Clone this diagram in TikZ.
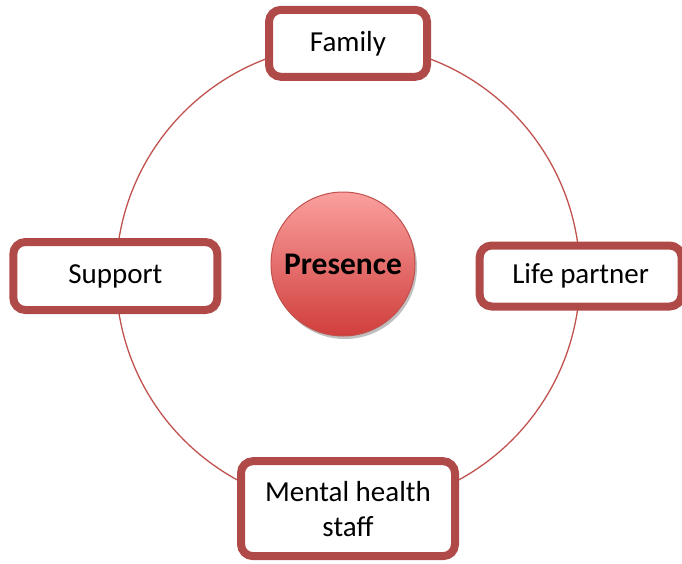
\documentclass[tikz,border=0pt]{standalone}
\usepackage{fontspec}
\setmainfont{Carlito}
\usetikzlibrary{shapes,shadows,positioning}

\definecolor{boxred}{RGB}{176,74,72}
\definecolor{ringred}{RGB}{192,82,78}
\definecolor{hubtop}{RGB}{250,160,158}
\definecolor{hubbot}{RGB}{208,62,60}

\tikzset{
  ring/.style={circle,draw=ringred,line width=1.3pt,minimum size=464pt,inner sep=0pt},
  box/.style={rectangle,rounded corners=12pt,draw=boxred,line width=8pt,fill=white,
    font=\fontsize{29}{35}\selectfont,align=center,
    drop shadow={shadow xshift=3pt,shadow yshift=-3pt,opacity=0.3,fill=black}},
  hub/.style={circle,draw=ringred,line width=1pt,minimum size=144pt,inner sep=0pt,
    top color=hubtop,bottom color=hubbot,font=\fontsize{31.5}{38}\selectfont\bfseries,
    drop shadow={shadow xshift=2pt,shadow yshift=-3pt,opacity=0.25,fill=black}}
}

\begin{document}
\begin{tikzpicture}[x=1pt,y=-1pt]
    \useasboundingbox (0,0) rectangle (682,563);
    \begin{scope}
    \clip (0,0) rectangle (682,563);
    \node [ring] (ring) at (348,276) {};
    \node [hub] (presence) at (343,264) {Presence};
    \node [box,minimum width=158pt,minimum height=67pt] (family) at (ring.north) {Family};
    \node [box,minimum width=204pt,minimum height=68pt] (support) at (ring.west) {Support};
    \node [box,minimum width=202pt,minimum height=61pt] (partner) at (ring.east) {Life partner};
    \node [box,minimum width=214pt,minimum height=95pt] (staff) at (ring.south)
    {Mental health\\staff};
    \end{scope}
  \end{tikzpicture}
\end{document}
